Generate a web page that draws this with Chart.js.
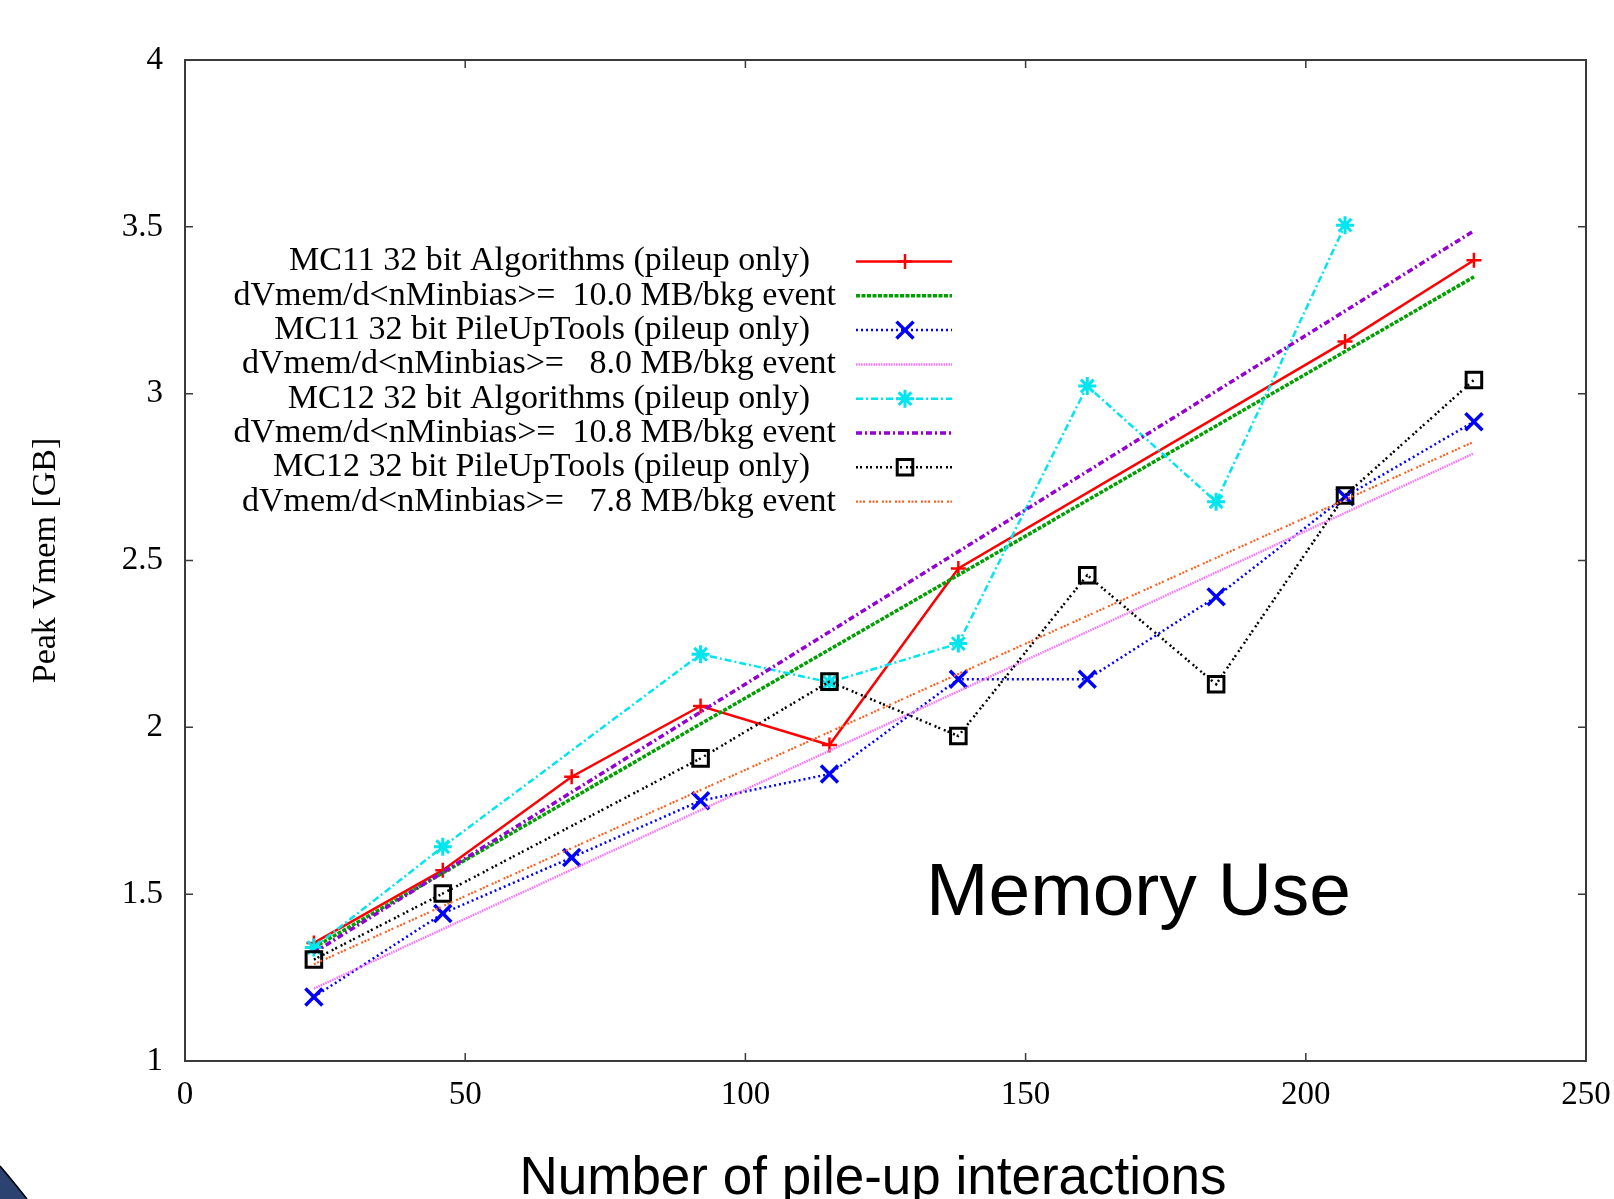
<!DOCTYPE html>
<html>
<head>
<meta charset="utf-8">
<script src="https://cdn.jsdelivr.net/npm/chart.js@4/dist/chart.umd.min.js"></script>
<style>
  html, body { margin: 0; padding: 0; background: #ffffff; }
  canvas { display: block; }
</style>
</head>
<body>
<canvas id="c" width="1614" height="1199"></canvas>
<script>
// ---- data ----
const pileup = [23, 46, 69, 92, 115, 138, 161, 184, 207, 230];
const mc11Alg = [1.354, 1.572, 1.852, 2.064, 1.947, 2.476, null, null, 3.156, 3.400];
const mc11Put = [1.192, 1.442, 1.610, 1.780, 1.860, 2.144, 2.144, 2.391, 2.691, 2.916];
const mc12Alg = [1.340, 1.642, null, 2.219, 2.135, 2.251, 3.023, 2.676, 3.505, null];
const mc12Put = [1.304, 1.502, null, 1.907, 2.137, 1.974, 2.456, 2.129, 2.695, 3.041];
const fitX = [23, 230];
const fit11Alg = [1.340, 3.350];
const fit11Put = [1.217, 2.821];
const fit12Alg = [1.325, 3.488];
const fit12Put = [1.290, 2.856];

const labels = [
  'MC11 32 bit Algorithms (pileup only)',
  'dVmem/d<nMinbias>=  10.0 MB/bkg event',
  'MC11 32 bit PileUpTools (pileup only)',
  'dVmem/d<nMinbias>=   8.0 MB/bkg event',
  'MC12 32 bit Algorithms (pileup only)',
  'dVmem/d<nMinbias>=  10.8 MB/bkg event',
  'MC12 32 bit PileUpTools (pileup only)',
  'dVmem/d<nMinbias>=   7.8 MB/bkg event'
];
const xTicks = [0, 50, 100, 150, 200, 250];
const yTicks = [1, 1.5, 2, 2.5, 3, 3.5, 4];
const xTitle = 'Number of pile-up interactions';
const yTitle = 'Peak Vmem [GB]';
const annotation = 'Memory Use';

function pts(xs, ys) {
  return xs.map((x, i) => ({ x: x, y: ys[i] })).filter(p => p.y !== null);
}

const styles = [
  { color: '#ff0000', dash: [], width: 2.5, ps: 'cross', r: 7.5, pw: 2.5 },
  { color: '#00a000', dash: [4, 1.5], width: 3.5, ps: false, r: 0, pw: 0 },
  { color: '#0000ff', dash: [2, 3], width: 2.5, ps: 'crossRot', r: 12, pw: 3.5 },
  { color: '#ff70ff', dash: [1.5, 1], width: 2.5, ps: false, r: 0, pw: 0 },
  { color: '#00e5ee', dash: [7, 3, 2, 3], width: 2.5, ps: 'star', r: 9, pw: 3 },
  { color: '#9400d3', dash: [6, 3, 2, 3], width: 3.5, ps: false, r: 0, pw: 0 },
  { color: '#000000', dash: [2, 2, 2, 4], width: 2.5, ps: 'rect', r: 11, pw: 3 },
  { color: '#ff5f1f', dash: [2, 1.5, 2, 1.5, 2, 4], width: 2.2, ps: false, r: 0, pw: 0 }
];
const seriesData = [
  pts(pileup, mc11Alg), pts(fitX, fit11Alg),
  pts(pileup, mc11Put), pts(fitX, fit11Put),
  pts(pileup, mc12Alg), pts(fitX, fit12Alg),
  pts(pileup, mc12Put), pts(fitX, fit12Put)
];

const datasets = seriesData.map((d, i) => {
  const s = styles[i];
  return {
    label: labels[i],
    data: d,
    borderColor: s.color,
    backgroundColor: 'rgba(0,0,0,0)',
    borderWidth: s.width,
    borderDash: s.dash,
    tension: 0,
    spanGaps: true,
    fill: false,
    pointStyle: s.ps || 'circle',
    pointRadius: s.r,
    pointHoverRadius: s.r,
    pointBorderWidth: s.pw,
    pointBorderColor: s.color,
    pointBackgroundColor: 'rgba(0,0,0,0)',
    order: 7 - i
  };
});

const framePlugin = {
  id: 'frame',
  beforeDatasetsDraw(chart) {
    const ctx = chart.ctx, a = chart.chartArea;
    const xs = chart.scales.x, ys = chart.scales.y;
    ctx.save();
    ctx.strokeStyle = '#3a3a3a';
    ctx.lineWidth = 1.5;
    const tl = 8;
    ctx.beginPath();
    xTicks.forEach(v => {
      const px = xs.getPixelForValue(v);
      ctx.moveTo(px, a.bottom); ctx.lineTo(px, a.bottom - tl);
      ctx.moveTo(px, a.top); ctx.lineTo(px, a.top + tl);
    });
    yTicks.forEach(v => {
      const py = ys.getPixelForValue(v);
      ctx.moveTo(a.left, py); ctx.lineTo(a.left + tl, py);
      ctx.moveTo(a.right, py); ctx.lineTo(a.right - tl, py);
    });
    ctx.stroke();
    ctx.lineWidth = 2;
    ctx.strokeRect(a.left, a.top, a.right - a.left, a.bottom - a.top);
    ctx.restore();
  },
  afterDraw(chart) {
    const ctx = chart.ctx;
    ctx.save();
    // legend
    const rowY0 = 261.5, rowDY = 34.3;
    const textRightFit = 836, textRightMC = 810;
    const sx0 = 856, sx1 = 952, sxm = 905;
    ctx.font = '34px "Liberation Serif", "DejaVu Serif", serif';
    ctx.textBaseline = 'middle';
    ctx.textAlign = 'right';
    chart.data.datasets.forEach((ds, i) => {
      const y = rowY0 + i * rowDY;
      const isFit = i % 2 === 1;
      ctx.fillStyle = '#000';
      ctx.fillText(ds.label, isFit ? textRightFit : textRightMC, y);
      ctx.save();
      ctx.strokeStyle = ds.borderColor;
      ctx.lineWidth = ds.borderWidth;
      ctx.setLineDash(ds.borderDash || []);
      ctx.beginPath();
      ctx.moveTo(sx0, y); ctx.lineTo(sx1, y);
      ctx.stroke();
      ctx.setLineDash([]);
      if (ds.pointRadius > 0) {
        ctx.strokeStyle = ds.pointBorderColor;
        ctx.fillStyle = 'rgba(0,0,0,0)';
        ctx.lineWidth = ds.pointBorderWidth;
        if (Chart.helpers && Chart.helpers.drawPoint) {
          Chart.helpers.drawPoint(ctx, { pointStyle: ds.pointStyle, radius: ds.pointRadius, rotation: 0, borderWidth: ds.pointBorderWidth }, sxm, y);
        }
      }
      ctx.restore();
    });
    // x axis title (centred as in the reference)
    ctx.textAlign = 'center';
    ctx.textBaseline = 'alphabetic';
    ctx.fillStyle = '#000';
    ctx.font = '53px "Liberation Sans", Arial, sans-serif';
    ctx.fillText(xTitle, 873, 1194);
    // annotation text
    ctx.textAlign = 'left';
    ctx.font = '75px "Liberation Sans", Arial, sans-serif';
    ctx.fillText(annotation, 926, 915);
    // slide corner decoration
    ctx.beginPath();
    ctx.moveTo(0, 1166);
    ctx.quadraticCurveTo(12, 1180, 27, 1199);
    ctx.lineTo(0, 1199);
    ctx.closePath();
    ctx.fillStyle = '#2c4270';
    ctx.fill();
    ctx.strokeStyle = '#000';
    ctx.lineWidth = 1.5;
    ctx.beginPath();
    ctx.moveTo(0, 1166);
    ctx.quadraticCurveTo(12, 1180, 27, 1199);
    ctx.stroke();
    ctx.restore();
  }
};

new Chart(document.getElementById('c'), {
  type: 'line',
  data: { datasets: datasets },
  options: {
    responsive: false,
    animation: false,
    devicePixelRatio: 1,
    layout: { autoPadding: false, padding: { top: 60, right: 28, left: 0, bottom: 0 } },
    plugins: { legend: { display: false }, tooltip: { enabled: false } },
    scales: {
      x: {
        type: 'linear',
        min: 0, max: 250,
        afterFit(scale) { scale.height = 138; scale.paddingLeft = 0; scale.paddingRight = 0; },
        afterBuildTicks(scale) { scale.ticks = xTicks.map(v => ({ value: v })); },
        grid: { display: false, drawTicks: false },
        border: { display: false },
        ticks: {
          padding: 15,
          color: '#000',
          maxRotation: 0,
          callback: v => String(v),
          font: { family: '"Liberation Serif", "DejaVu Serif", serif', size: 33 }
        },
        title: { display: false, text: xTitle }
      },
      y: {
        type: 'linear',
        min: 1, max: 4,
        afterFit(scale) { scale.width = 185; scale.paddingTop = 0; scale.paddingBottom = 0; },
        afterBuildTicks(scale) { scale.ticks = yTicks.map(v => ({ value: v })); },
        grid: { display: false, drawTicks: false },
        border: { display: false },
        ticks: {
          padding: 22,
          color: '#000',
          callback: v => String(v),
          font: { family: '"Liberation Serif", "DejaVu Serif", serif', size: 33 }
        },
        title: {
          display: true,
          text: yTitle,
          color: '#000',
          padding: { top: 26, bottom: 0 },
          font: { family: '"Liberation Serif", "DejaVu Serif", serif', size: 34 }
        }
      }
    }
  },
  plugins: [framePlugin]
});
</script>
</body>
</html>
